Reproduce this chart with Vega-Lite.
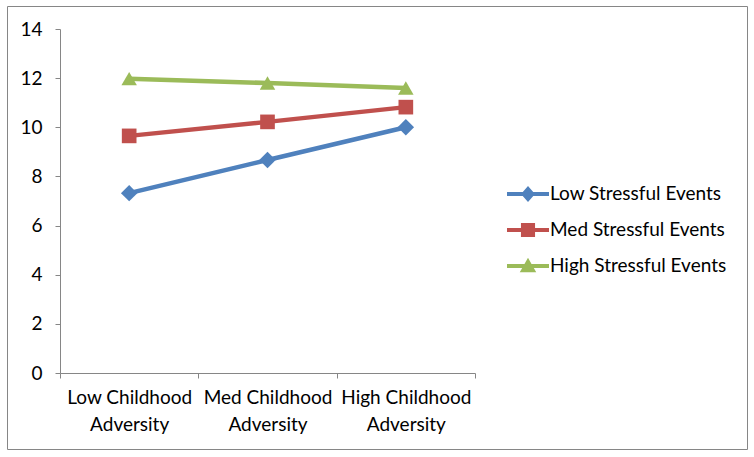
{
  "$schema": "https://vega.github.io/schema/vega-lite/v6.json",
  "width": 740,
  "height": 443,
  "autosize": "none",
  "padding": {"left": 7, "top": 6, "right": 7, "bottom": 8},
  "background": "white",
  "config": {
    "view": {"stroke": "#868686", "strokeWidth": 1},
    "font": "Lato"
  },
  "data": {
    "values": [
      {"adversity": "Low Childhood Adversity", "series": "Low Stressful Events", "value": 7.32},
      {"adversity": "Med Childhood Adversity", "series": "Low Stressful Events", "value": 8.67},
      {"adversity": "High Childhood Adversity", "series": "Low Stressful Events", "value": 10.0},
      {"adversity": "Low Childhood Adversity", "series": "Med Stressful Events", "value": 9.65},
      {"adversity": "Med Childhood Adversity", "series": "Med Stressful Events", "value": 10.22},
      {"adversity": "High Childhood Adversity", "series": "Med Stressful Events", "value": 10.82},
      {"adversity": "Low Childhood Adversity", "series": "High Stressful Events", "value": 11.98},
      {"adversity": "Med Childhood Adversity", "series": "High Stressful Events", "value": 11.8},
      {"adversity": "High Childhood Adversity", "series": "High Stressful Events", "value": 11.6}
    ]
  },
  "encoding": {
    "x": {
      "field": "adversity",
      "type": "nominal",
      "sort": ["Low Childhood Adversity", "Med Childhood Adversity", "High Childhood Adversity"],
      "bandPosition": 0.5,
      "scale": {"type": "band", "range": [53, 468], "paddingInner": 0, "paddingOuter": 0},
      "axis": {
        "title": null,
        "offset": -76,
        "tickBand": "extent",
        "domainColor": "#868686",
        "tickColor": "#868686",
        "tickSize": 5,
        "labelAngle": 0,
        "labelFont": "Lato",
        "labelFontSize": 19,
        "labelColor": "#000000",
        "labelLineHeight": 27,
        "labelPadding": 10,
        "labelExpr": "split(replace(datum.label, ' Adversity', '|Adversity'), '|')"
      }
    },
    "y": {
      "field": "value",
      "type": "quantitative",
      "scale": {"domain": [0, 14], "range": [367, 23], "nice": false, "zero": true},
      "axis": {
        "title": null,
        "offset": -53,
        "values": [0, 2, 4, 6, 8, 10, 12, 14],
        "grid": false,
        "domainColor": "#868686",
        "tickColor": "#868686",
        "tickSize": 5,
        "labelFont": "Lato",
        "labelFontSize": 19,
        "labelColor": "#000000",
        "labelPadding": 13
      }
    },
    "color": {
      "field": "series",
      "type": "nominal",
      "sort": ["Low Stressful Events", "Med Stressful Events", "High Stressful Events"],
      "scale": {
        "domain": ["Low Stressful Events", "Med Stressful Events", "High Stressful Events"],
        "range": ["#4F81BD", "#C0504D", "#9BBB59"]
      },
      "legend": {
        "title": null,
        "orient": "none",
        "legendX": 506,
        "legendY": 173,
        "padding": 0,
        "symbolSize": 900,
        "symbolStrokeWidth": 0,
        "symbolOpacity": 1,
        "labelFont": "Lato",
        "labelFontSize": 19,
        "labelColor": "#000000",
        "labelOffset": 7,
        "rowPadding": 11,
        "labelLimit": 300
      }
    }
  },
  "layer": [
    {
      "mark": {"type": "line", "strokeWidth": 4.5}
    },
    {
      "transform": [{"filter": "false"}],
      "mark": {"type": "point", "filled": true, "opacity": 1},
      "encoding": {
        "shape": {
          "field": "series",
          "type": "nominal",
          "scale": {
            "domain": ["Low Stressful Events", "Med Stressful Events", "High Stressful Events"],
            "range": [
              "M-1.4,-0.133 L-0.35,-0.133 L0,-0.53 L0.35,-0.133 L1.4,-0.133 L1.4,0.133 L0.35,0.133 L0,0.53 L-0.35,0.133 L-1.4,0.133 Z",
              "M-1.4,-0.133 L-0.47,-0.133 L-0.47,-0.47 L0.47,-0.47 L0.47,-0.133 L1.4,-0.133 L1.4,0.133 L0.47,0.133 L0.47,0.47 L-0.47,0.47 L-0.47,0.133 L-1.4,0.133 Z",
              "M-1.4,-0.133 L-0.236,-0.133 L0,-0.55 L0.236,-0.133 L1.4,-0.133 L1.4,0.133 L0.387,0.133 L0.55,0.42 L-0.55,0.42 L-0.387,0.133 L-1.4,0.133 Z"
            ]
          },
          "legend": {}
        }
      }
    },
    {
      "transform": [{"filter": "datum.series === 'Low Stressful Events'"}],
      "mark": {"type": "point", "shape": "diamond", "filled": true, "opacity": 1, "size": 270}
    },
    {
      "transform": [{"filter": "datum.series === 'Med Stressful Events'"}],
      "mark": {"type": "point", "shape": "square", "filled": true, "opacity": 1, "size": 215}
    },
    {
      "transform": [{"filter": "datum.series === 'High Stressful Events'"}],
      "mark": {"type": "point", "shape": "triangle-up", "filled": true, "opacity": 1, "size": 240}
    }
  ]
}
